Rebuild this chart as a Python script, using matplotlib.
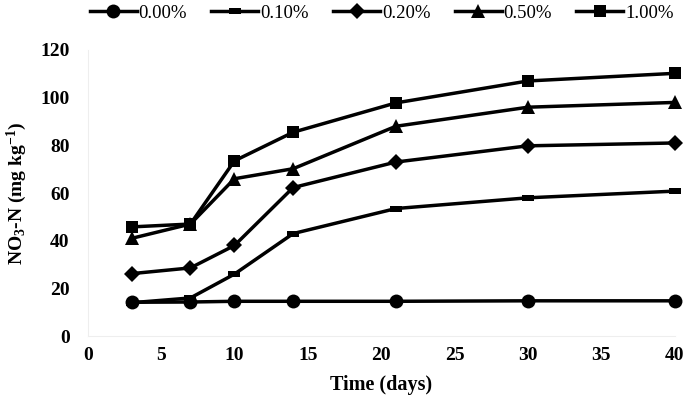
import matplotlib.pyplot as plt

days = [3, 7, 10, 14, 21, 30, 40]
labels = ['0.00%', '0.10%', '0.20%', '0.50%', '1.00%']
no3_000 = [14.2, 14.3, 14.6, 14.6, 14.6, 14.8, 14.8]
no3_010 = [14, 16, 26, 43, 53.5, 58, 60.8]
no3_020 = [26.2, 28.6, 38, 62.3, 73, 79.8, 81]
no3_050 = [41, 47, 66, 70.2, 88, 96, 98]
no3_100 = [45.8, 47, 73.5, 85.5, 97.8, 107, 110.2]

series = [no3_000, no3_010, no3_020, no3_050, no3_100]
flat_rect = [(-1, -0.45), (1, -0.45), (1, 0.45), (-1, 0.45), (-1, -0.45)]
markers = ['o', flat_rect, 'D', '^', 's']
msizes = [10, 9, 8, 10, 9]

plt.rcParams['font.family'] = ['Liberation Serif', 'DejaVu Serif']
plt.rcParams['mathtext.fontset'] = 'custom'
plt.rcParams['mathtext.rm'] = 'Liberation Serif:bold'
plt.rcParams['mathtext.it'] = 'Liberation Serif:bold'
plt.rcParams['mathtext.bf'] = 'Liberation Serif:bold'

fig = plt.figure(figsize=(6.85, 4.03), dpi=100)
ax = fig.add_axes([0.128, 0.166, 0.857, 0.710])

for vals, lab, m, ms in zip(series, labels, markers, msizes):
    ax.plot(days, vals, color='black', lw=2.5, marker=m, ms=ms,
            markeredgewidth=0, label=lab, clip_on=False)

ax.set_xlim(0, 40)
ax.set_ylim(0, 120)
ax.set_xticks(range(0, 41, 5))
ax.set_yticks(range(0, 121, 20))
ax.tick_params(length=0, labelsize=14)
ax.tick_params(axis='y', pad=13)
ax.tick_params(axis='x', pad=8)
for t in ax.get_xticklabels() + ax.get_yticklabels():
    t.set_fontweight('bold')
for s in ['top', 'right']:
    ax.spines[s].set_visible(False)
for s in ['left', 'bottom']:
    ax.spines[s].set_color('#eeeeee')

ax.set_xlabel('Time (days)', fontsize=14.5, fontweight='bold', labelpad=8)
ax.set_ylabel('NO$_\\mathrm{3}$-N (mg kg$^\\mathrm{-1}$)', fontsize=14,
              fontweight='bold', labelpad=8)

leg = fig.legend(loc='upper right', bbox_to_anchor=(1.008, 1.03), ncol=5,
                 frameon=False, fontsize=13.5, handlelength=2.5,
                 columnspacing=1.3, handletextpad=0.1)

fig.savefig('out.png', dpi=100)
